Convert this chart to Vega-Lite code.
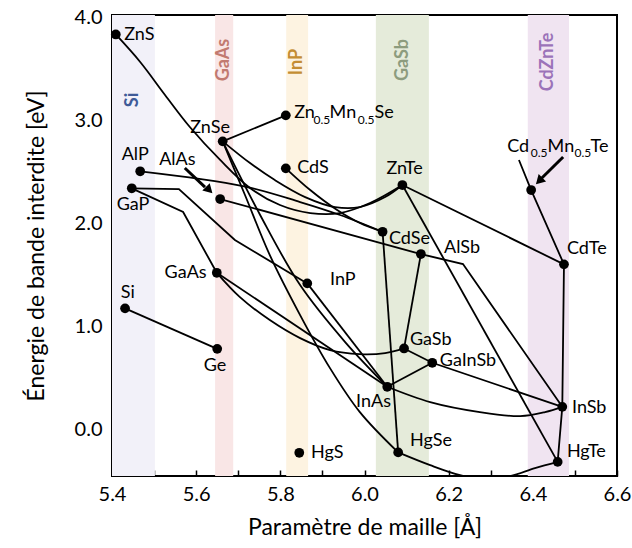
{
"$schema": "https://vega.github.io/schema/vega-lite/v6.json",
"width": 505, "height": 461,
"autosize": {"type": "none"},
"padding": {"left": 112, "top": 15, "right": 15, "bottom": 72},
"background": "white",
"config": {"font": "Lato", "view": {"stroke": "black", "strokeWidth": 2}},
"datasets": {
"bands": [
{"band": "Si", "x0": 5.4, "x1": 5.502, "lx": 5.450, "ly": 3.199},
{"band": "GaAs", "x0": 5.645, "x1": 5.688, "lx": 5.666, "ly": 3.587},
{"band": "InP", "x0": 5.814, "x1": 5.866, "lx": 5.840, "ly": 3.568},
{"band": "GaSb", "x0": 6.027, "x1": 6.153, "lx": 6.091, "ly": 3.587},
{"band": "CdZnTe", "x0": 6.388, "x1": 6.486, "lx": 6.436, "ly": 3.568}
],
"points": [
{"name": "ZnS", "x": 5.409, "y": 3.835},
{"name": "ZnSe", "x": 5.663, "y": 2.798},
{"name": "Zn0.5Mn0.5Se", "x": 5.813, "y": 3.05},
{"name": "CdS", "x": 5.813, "y": 2.536},
{"name": "AlP", "x": 5.467, "y": 2.507},
{"name": "GaP", "x": 5.447, "y": 2.342},
{"name": "AlAs", "x": 5.657, "y": 2.238},
{"name": "ZnTe", "x": 6.090, "y": 2.374},
{"name": "Cd0.5Mn0.5Te", "x": 6.396, "y": 2.325},
{"name": "CdSe", "x": 6.043, "y": 1.920},
{"name": "AlSb", "x": 6.134, "y": 1.704},
{"name": "CdTe", "x": 6.474, "y": 1.604},
{"name": "GaSb", "x": 6.094, "y": 0.788},
{"name": "GaInSb", "x": 6.161, "y": 0.649},
{"name": "InAs", "x": 6.054, "y": 0.416},
{"name": "InSb", "x": 6.470, "y": 0.221},
{"name": "HgSe", "x": 6.080, "y": -0.221},
{"name": "HgTe", "x": 6.459, "y": -0.313},
{"name": "GaAs", "x": 5.649, "y": 1.522},
{"name": "InP", "x": 5.864, "y": 1.419},
{"name": "Si", "x": 5.431, "y": 1.177},
{"name": "Ge", "x": 5.650, "y": 0.784},
{"name": "HgS", "x": 5.845, "y": -0.225}
],
"lin": [
{"id": "Si-Ge", "o": 1, "x": 5.431, "y": 1.177}, {"id": "Si-Ge", "o": 2, "x": 5.650, "y": 0.784},
{"id": "ZnSe-ZnMnSe", "o": 1, "x": 5.663, "y": 2.798}, {"id": "ZnSe-ZnMnSe", "o": 2, "x": 5.813, "y": 3.05},
{"id": "CdMnTe-CdTe", "o": 1, "x": 6.367, "y": 2.617}, {"id": "CdMnTe-CdTe", "o": 2, "x": 6.396, "y": 2.325}, {"id": "CdMnTe-CdTe", "o": 3, "x": 6.474, "y": 1.604},
{"id": "CdTe-HgTe", "o": 1, "x": 6.474, "y": 1.604}, {"id": "CdTe-HgTe", "o": 2, "x": 6.470, "y": 0.221}, {"id": "CdTe-HgTe", "o": 3, "x": 6.459, "y": -0.313},
{"id": "ZnTe-CdTe", "o": 1, "x": 6.090, "y": 2.374}, {"id": "ZnTe-CdTe", "o": 2, "x": 6.474, "y": 1.604},
{"id": "ZnTe-HgTe", "o": 1, "x": 6.090, "y": 2.374}, {"id": "ZnTe-HgTe", "o": 2, "x": 6.459, "y": -0.313},
{"id": "CdSe-HgSe", "o": 1, "x": 6.043, "y": 1.920}, {"id": "CdSe-HgSe", "o": 2, "x": 6.080, "y": -0.221},
{"id": "AlSb-GaSb", "o": 1, "x": 6.134, "y": 1.704}, {"id": "AlSb-GaSb", "o": 2, "x": 6.094, "y": 0.788},
{"id": "GaSb-InSb", "o": 1, "x": 6.094, "y": 0.788}, {"id": "GaSb-InSb", "o": 2, "x": 6.161, "y": 0.649}, {"id": "GaSb-InSb", "o": 3, "x": 6.470, "y": 0.221},
{"id": "InAs-GaInSb", "o": 1, "x": 6.054, "y": 0.416}, {"id": "InAs-GaInSb", "o": 2, "x": 6.161, "y": 0.649},
{"id": "AlAs-InSb", "o": 1, "x": 5.657, "y": 2.238}, {"id": "AlAs-InSb", "o": 2, "x": 6.134, "y": 1.704}, {"id": "AlAs-InSb", "o": 3, "x": 6.234, "y": 1.607}, {"id": "AlAs-InSb", "o": 4, "x": 6.470, "y": 0.221},
{"id": "GaP-GaAs", "o": 1, "x": 5.447, "y": 2.342}, {"id": "GaP-GaAs", "o": 2, "x": 5.569, "y": 2.112}, {"id": "GaP-GaAs", "o": 3, "x": 5.649, "y": 1.522},
{"id": "GaP-InP", "o": 1, "x": 5.447, "y": 2.342}, {"id": "GaP-InP", "o": 2, "x": 5.559, "y": 2.335}, {"id": "GaP-InP", "o": 3, "x": 5.692, "y": 1.840}, {"id": "GaP-InP", "o": 4, "x": 5.864, "y": 1.419},
{"id": "GaAs-InAs", "o": 1, "x": 5.649, "y": 1.522}, {"id": "GaAs-InAs", "o": 2, "x": 6.054, "y": 0.416},
{"id": "InP-InAs", "o": 1, "x": 5.864, "y": 1.419}, {"id": "InP-InAs", "o": 2, "x": 6.054, "y": 0.416}
],
"cur": [
{"id": "ZnS-ZnTe", "o": 1, "x": 5.409, "y": 3.835}, {"id": "ZnS-ZnTe", "o": 2, "x": 5.467, "y": 3.568}, {"id": "ZnS-ZnTe", "o": 3, "x": 5.526, "y": 3.248}, {"id": "ZnS-ZnTe", "o": 4, "x": 5.585, "y": 2.937}, {"id": "ZnS-ZnTe", "o": 5, "x": 5.657, "y": 2.617}, {"id": "ZnS-ZnTe", "o": 6, "x": 5.728, "y": 2.345}, {"id": "ZnS-ZnTe", "o": 7, "x": 5.799, "y": 2.180}, {"id": "ZnS-ZnTe", "o": 8, "x": 5.871, "y": 2.102}, {"id": "ZnS-ZnTe", "o": 9, "x": 5.942, "y": 2.102}, {"id": "ZnS-ZnTe", "o": 10, "x": 6.013, "y": 2.199}, {"id": "ZnS-ZnTe", "o": 11, "x": 6.090, "y": 2.374},
{"id": "ZnSe-ZnTe", "o": 1, "x": 5.663, "y": 2.798}, {"id": "ZnSe-ZnTe", "o": 2, "x": 5.728, "y": 2.587}, {"id": "ZnSe-ZnTe", "o": 3, "x": 5.787, "y": 2.422}, {"id": "ZnSe-ZnTe", "o": 4, "x": 5.859, "y": 2.257}, {"id": "ZnSe-ZnTe", "o": 5, "x": 5.930, "y": 2.160}, {"id": "ZnSe-ZnTe", "o": 6, "x": 5.989, "y": 2.160}, {"id": "ZnSe-ZnTe", "o": 7, "x": 6.049, "y": 2.257}, {"id": "ZnSe-ZnTe", "o": 8, "x": 6.090, "y": 2.374},
{"id": "AlP-CdSe", "o": 1, "x": 5.467, "y": 2.507}, {"id": "AlP-CdSe", "o": 2, "x": 5.711, "y": 2.364}, {"id": "AlP-CdSe", "o": 3, "x": 5.847, "y": 2.209}, {"id": "AlP-CdSe", "o": 4, "x": 5.942, "y": 2.083}, {"id": "AlP-CdSe", "o": 5, "x": 6.043, "y": 1.920},
{"id": "ZnSe-HgSe", "o": 1, "x": 5.663, "y": 2.798}, {"id": "ZnSe-HgSe", "o": 2, "x": 5.716, "y": 2.277}, {"id": "ZnSe-HgSe", "o": 3, "x": 5.775, "y": 1.694}, {"id": "ZnSe-HgSe", "o": 4, "x": 5.847, "y": 1.112}, {"id": "ZnSe-HgSe", "o": 5, "x": 5.918, "y": 0.597}, {"id": "ZnSe-HgSe", "o": 6, "x": 5.989, "y": 0.170}, {"id": "ZnSe-HgSe", "o": 7, "x": 6.080, "y": -0.221},
{"id": "ZnSe-InAs", "o": 1, "x": 5.663, "y": 2.798}, {"id": "ZnSe-InAs", "o": 2, "x": 5.752, "y": 2.083}, {"id": "ZnSe-InAs", "o": 3, "x": 5.847, "y": 1.403}, {"id": "ZnSe-InAs", "o": 4, "x": 5.954, "y": 0.850}, {"id": "ZnSe-InAs", "o": 5, "x": 6.054, "y": 0.416},
{"id": "CdS-CdSe", "o": 1, "x": 5.813, "y": 2.536}, {"id": "CdS-CdSe", "o": 2, "x": 5.871, "y": 2.325}, {"id": "CdS-CdSe", "o": 3, "x": 5.935, "y": 2.131}, {"id": "CdS-CdSe", "o": 4, "x": 5.989, "y": 2.005}, {"id": "CdS-CdSe", "o": 5, "x": 6.043, "y": 1.920},
{"id": "GaAs-GaSb", "o": 1, "x": 5.649, "y": 1.522}, {"id": "GaAs-GaSb", "o": 2, "x": 5.704, "y": 1.286}, {"id": "GaAs-GaSb", "o": 3, "x": 5.775, "y": 1.063}, {"id": "GaAs-GaSb", "o": 4, "x": 5.847, "y": 0.888}, {"id": "GaAs-GaSb", "o": 5, "x": 5.918, "y": 0.772}, {"id": "GaAs-GaSb", "o": 6, "x": 5.989, "y": 0.733}, {"id": "GaAs-GaSb", "o": 7, "x": 6.049, "y": 0.743}, {"id": "GaAs-GaSb", "o": 8, "x": 6.094, "y": 0.788},
{"id": "InAs-InSb", "o": 1, "x": 6.054, "y": 0.416}, {"id": "InAs-InSb", "o": 2, "x": 6.156, "y": 0.267}, {"id": "InAs-InSb", "o": 3, "x": 6.274, "y": 0.170}, {"id": "InAs-InSb", "o": 4, "x": 6.370, "y": 0.131}, {"id": "InAs-InSb", "o": 5, "x": 6.429, "y": 0.170}, {"id": "InAs-InSb", "o": 6, "x": 6.470, "y": 0.221},
{"id": "HgSe-HgTe", "o": 1, "x": 6.080, "y": -0.221}, {"id": "HgSe-HgTe", "o": 2, "x": 6.156, "y": -0.345}, {"id": "HgSe-HgTe", "o": 3, "x": 6.227, "y": -0.442}, {"id": "HgSe-HgTe", "o": 4, "x": 6.286, "y": -0.481}, {"id": "HgSe-HgTe", "o": 5, "x": 6.346, "y": -0.451}, {"id": "HgSe-HgTe", "o": 6, "x": 6.405, "y": -0.374}, {"id": "HgSe-HgTe", "o": 7, "x": 6.459, "y": -0.313}
],
"arrows": [
{"id": "AlAs", "o": 1, "x": 5.573, "y": 2.539}, {"id": "AlAs", "o": 2, "x": 5.621, "y": 2.354},
{"id": "CdMnTe", "o": 1, "x": 6.472, "y": 2.646}, {"id": "CdMnTe", "o": 2, "x": 6.419, "y": 2.432}
],
"heads": [
{"id": "AlAs", "x": 5.631, "y": 2.325},
{"id": "CdMnTe", "x": 6.415, "y": 2.413}
],
"labels": [
{"t": "ZnS", "x": 5.429, "y": 3.830},
{"t": "ZnSe", "x": 5.586, "y": 2.927},
{"t": "CdS", "x": 5.840, "y": 2.539},
{"t": "AlP", "x": 5.423, "y": 2.665},
{"t": "AlAs", "x": 5.512, "y": 2.617},
{"t": "GaP", "x": 5.411, "y": 2.180},
{"t": "ZnTe", "x": 6.052, "y": 2.529},
{"t": "CdSe", "x": 6.058, "y": 1.850},
{"t": "AlSb", "x": 6.189, "y": 1.762},
{"t": "CdTe", "x": 6.481, "y": 1.752},
{"t": "GaSb", "x": 6.108, "y": 0.869},
{"t": "GaInSb", "x": 6.179, "y": 0.665},
{"t": "InAs", "x": 5.980, "y": 0.267},
{"t": "InSb", "x": 6.493, "y": 0.209},
{"t": "HgSe", "x": 6.108, "y": -0.112},
{"t": "HgTe", "x": 6.481, "y": -0.218},
{"t": "GaAs", "x": 5.525, "y": 1.519},
{"t": "InP", "x": 5.918, "y": 1.451},
{"t": "Si", "x": 5.421, "y": 1.325},
{"t": "Ge", "x": 5.618, "y": 0.617},
{"t": "HgS", "x": 5.873, "y": -0.228}
],
"pieces": [
{"t": "Zn", "role": "main", "x": 5.833, "y": 3.024},
{"t": "0.5", "role": "sub", "x": 5.879, "y": 2.966},
{"t": "Mn", "role": "main", "x": 5.917, "y": 3.024},
{"t": "0.5", "role": "sub", "x": 5.984, "y": 2.966},
{"t": "Se", "role": "main", "x": 6.024, "y": 3.024},
{"t": "Cd", "role": "main", "x": 6.339, "y": 2.694},
{"t": "0.5", "role": "sub", "x": 6.395, "y": 2.646},
{"t": "Mn", "role": "main", "x": 6.435, "y": 2.694},
{"t": "0.5", "role": "sub", "x": 6.499, "y": 2.646},
{"t": "Te", "role": "main", "x": 6.537, "y": 2.694}
]
},
"encoding": {
"x": {"type": "quantitative", "scale": {"domain": [5.4, 6.6], "nice": false, "zero": false},
 "axis": {"title": "Paramètre de maille [Å]", "values": [5.4, 5.5, 5.6, 5.7, 5.8, 5.9, 6.0, 6.1, 6.2, 6.3, 6.4, 6.5, 6.6],
  "labelExpr": "round(datum.value*10) % 2 == 0 ? format(datum.value, '.1f') : ''",
  "domain": false, "grid": false, "tickSize": -6, "tickWidth": 1.5, "tickColor": "black",
  "labelFontSize": 20, "labelColor": "black", "labelPadding": 14, "labelFlush": false,
  "titleFontSize": 23, "titleFontWeight": "normal", "titleColor": "black", "titlePadding": 12}},
"y": {"type": "quantitative", "scale": {"domain": [-0.45, 4.024], "nice": false, "zero": false},
 "axis": {"title": "Énergie de bande interdite [eV]", "values": [0, 0.5, 1, 1.5, 2, 2.5, 3, 3.5, 4],
  "labelExpr": "round(datum.value*10) % 10 == 0 ? format(datum.value, '.1f') : ''",
  "domain": false, "grid": false, "tickSize": -6, "tickWidth": 1.5, "tickColor": "black",
  "labelFontSize": 20, "labelColor": "black", "labelPadding": 16, "labelFlush": false,
  "titleFontSize": 23, "titleFontWeight": "normal", "titleColor": "black", "titlePadding": 26}}
},
"layer": [
{"data": {"name": "bands"}, "mark": {"type": "rect", "opacity": 1},
 "encoding": {"x": {"field": "x0"}, "x2": {"field": "x1"},
  "fill": {"field": "band", "type": "nominal", "legend": null, "scale": {"domain": ["Si", "GaAs", "InP", "GaSb", "CdZnTe"], "range": ["#f2f1f9", "#f9e6e6", "#fdf3e1", "#e5ebda", "#f0e4f1"]}}}},
{"data": {"name": "bands"}, "mark": {"type": "text", "angle": 270, "fontSize": 18, "fontWeight": "bold", "align": "center", "baseline": "middle"},
 "encoding": {"x": {"field": "lx"}, "y": {"field": "ly"}, "text": {"field": "band"},
  "color": {"field": "band", "type": "nominal", "legend": null, "scale": {"domain": ["Si", "GaAs", "InP", "GaSb", "CdZnTe"], "range": ["#3f5b98", "#c27a70", "#c48d33", "#8d9c7e", "#9b73b9"]}}}},
{"data": {"name": "lin"}, "mark": {"type": "line", "color": "black", "strokeWidth": 1.8, "clip": true, "interpolate": "linear"},
 "encoding": {"x": {"field": "x"}, "y": {"field": "y"}, "detail": {"field": "id"}, "order": {"field": "o"}}},
{"data": {"name": "cur"}, "mark": {"type": "line", "color": "black", "strokeWidth": 1.8, "clip": true, "interpolate": "catmull-rom"},
 "encoding": {"x": {"field": "x"}, "y": {"field": "y"}, "detail": {"field": "id"}, "order": {"field": "o"}}},
{"data": {"name": "arrows"}, "mark": {"type": "line", "color": "black", "strokeWidth": 3},
 "encoding": {"x": {"field": "x"}, "y": {"field": "y"}, "detail": {"field": "id"}, "order": {"field": "o"}}},
{"data": {"name": "heads"}, "transform": [{"filter": "datum.id == 'AlAs'"}], "mark": {"type": "point", "shape": "triangle-up", "filled": true, "color": "black", "opacity": 1, "size": 110, "angle": 135},
 "encoding": {"x": {"field": "x"}, "y": {"field": "y"}}},
{"data": {"name": "heads"}, "transform": [{"filter": "datum.id == 'CdMnTe'"}], "mark": {"type": "point", "shape": "triangle-up", "filled": true, "color": "black", "opacity": 1, "size": 110, "angle": 225},
 "encoding": {"x": {"field": "x"}, "y": {"field": "y"}}},
{"data": {"name": "points"}, "mark": {"type": "circle", "color": "black", "opacity": 1, "size": 95},
 "encoding": {"x": {"field": "x"}, "y": {"field": "y"}}},
{"data": {"name": "labels"}, "mark": {"type": "text", "fontSize": 18, "align": "left", "baseline": "middle", "color": "black"},
 "encoding": {"x": {"field": "x"}, "y": {"field": "y"}, "text": {"field": "t"}}},
{"data": {"name": "pieces"}, "transform": [{"filter": "datum.role == 'main'"}], "mark": {"type": "text", "fontSize": 18, "align": "left", "baseline": "alphabetic", "color": "black"},
 "encoding": {"x": {"field": "x"}, "y": {"field": "y"}, "text": {"field": "t"}}},
{"data": {"name": "pieces"}, "transform": [{"filter": "datum.role == 'sub'"}], "mark": {"type": "text", "fontSize": 12, "align": "left", "baseline": "alphabetic", "color": "black"},
 "encoding": {"x": {"field": "x"}, "y": {"field": "y"}, "text": {"field": "t"}}}
]
}
